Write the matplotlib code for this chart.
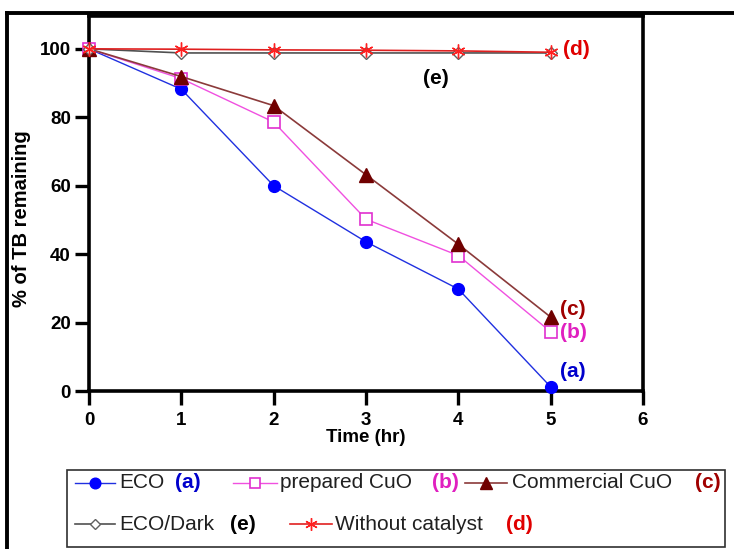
import matplotlib
matplotlib.use("Agg")
import matplotlib.pyplot as plt
from matplotlib.lines import Line2D
from matplotlib.patches import Rectangle

plt.rcParams['font.family'] = ['Liberation Sans', 'DejaVu Sans']

time = [0, 1, 2, 3, 4, 5]
eco = [100, 88.2, 60, 43.6, 29.8, 1.2]
prepared_cuo = [100, 91.3, 78.6, 50.2, 39.6, 17.3]
commercial_cuo = [100, 91.9, 83.4, 63.2, 42.9, 21.6]
eco_dark = [100, 98.8, 98.8, 98.8, 98.8, 98.8]
without_cat = [100, 99.9, 99.7, 99.6, 99.4, 99.0]

x_ticks = [0, 1, 2, 3, 4, 5, 6]
y_ticks = [0, 20, 40, 60, 80, 100]

W, H = 734, 549
fig = plt.figure(figsize=(W / 100, H / 100), dpi=100)
ax = fig.add_axes([89 / W, 1 - 391 / H, (643 - 89) / W, (391 - 16) / H])

styles = [
    dict(color='#2030E0', marker='o', ms=8.5, mfc='#0000FF', mec='#0000FF', lw=1.0),
    dict(color='#F050E0', marker='s', ms=8, mfc='white', mec='#E030D0', mew=1.2, lw=1.0),
    dict(color='#8B3A3A', marker='^', ms=9.5, mfc='#700000', mec='#700000', lw=1.2),
    dict(color='#505050', marker='D', ms=6, mfc='white', mec='#606060', mew=1.0, lw=1.2),
    dict(color='#E02020', marker=(6, 2, 0), ms=10, mfc='#FF0000', mec='#FF2020', mew=1.0, lw=1.2),
]
series = [eco, prepared_cuo, commercial_cuo, eco_dark, without_cat]
for s, st in zip(series, styles):
    ax.plot(time, s, clip_on=False, zorder=3, **st)

ax.set_xlim(0, 6)
ax.set_ylim(0, 109.6)
ax.set_xticks(x_ticks)
ax.set_yticks(y_ticks)
ax.set_xticklabels([str(t) for t in x_ticks], fontweight='bold', fontsize=13.5)
ax.set_yticklabels([str(t) for t in y_ticks], fontweight='bold', fontsize=13.5)
ax.tick_params(axis='both', direction='out', length=10, width=2.4, pad=3)
ax.tick_params(axis='x', pad=5)
for sp in ax.spines.values():
    sp.set_linewidth(2.6)
ax.set_xlabel('Time (hr)', fontweight='bold', fontsize=13.5, labelpad=0)
ax.set_ylabel('% of TB remaining', fontweight='bold', fontsize=14.5)
ax.yaxis.set_label_coords((31 - 89) / (643 - 89), 0.46)

# curve tags
tag_kw = dict(fontweight='bold', fontsize=15, va='center', ha='left')
ax.text(5.13, 99.7, '(d)', color='#E00000', **tag_kw)
ax.text(3.62, 91.2, '(e)', color='black', **tag_kw)
ax.text(5.10, 23.7, '(c)', color='#A00000', **tag_kw)
ax.text(5.10, 17.0, '(b)', color='#E020C0', **tag_kw)
ax.text(5.10, 5.8, '(a)', color='#0000CC', **tag_kw)

# figure border lines
fig.add_artist(Line2D([7 / W, 7 / W], [0, 1 - 13 / H], color='black', lw=2.8, transform=fig.transFigure))
fig.add_artist(Line2D([7 / W, 1], [1 - 13 / H, 1 - 13 / H], color='black', lw=2.8, transform=fig.transFigure))

# legend box
fig.add_artist(Rectangle((67 / W, 1 - 547 / H), (725 - 67) / W, (547 - 470) / H,
                         fill=False, ec='#303030', lw=1.2, transform=fig.transFigure))

leg_labels = ['ECO', 'prepared CuO', 'Commercial CuO', 'ECO/Dark', 'Without catalyst']
leg_tags = ['(a)', '(b)', '(c)', '(e)', '(d)']
tag_cols = ['#0000CC', '#E020C0', '#A00000', 'black', '#E00000']
# line start x, line end x, text x, tag x, row y (pixels)
leg_pos = [
    (75, 115, 119, 175, 483),
    (233, 277, 280, 432, 483),
    (465, 507, 512, 695, 483),
    (75, 115, 119, 230, 524),
    (290, 332, 335, 506, 524),
]
for st, lab, tag, tc, (x0, x1, tx, tgx, yy) in zip(styles, leg_labels, leg_tags, tag_cols, leg_pos):
    yf = 1 - yy / H
    fig.add_artist(Line2D([x0 / W, x1 / W], [yf, yf], color=st['color'], lw=st['lw'],
                          transform=fig.transFigure))
    mk = dict(st)
    mk.pop('lw')
    mk.pop('color')
    mk['ms'] = mk['ms'] * 0.9
    fig.add_artist(Line2D([(x0 + x1) / 2 / W], [yf], linestyle='none',
                          transform=fig.transFigure, **mk))
    fig.text(tx / W, yf, lab, fontsize=15, va='center', ha='left', color='#202020')
    fig.text(tgx / W, yf, tag, fontsize=15, fontweight='bold', va='center', ha='left', color=tc)

fig.savefig('out.png', dpi=100)
